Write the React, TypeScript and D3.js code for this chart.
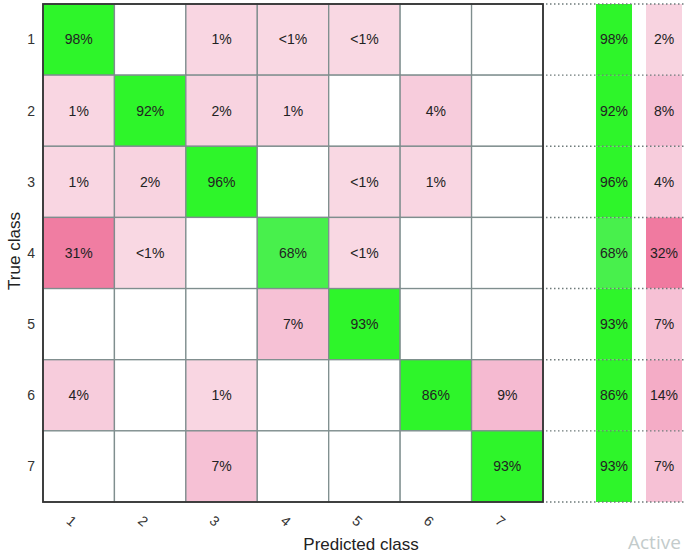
import React, { useEffect, useRef } from 'react';
import * as d3 from 'd3';

const classes = ['1', '2', '3', '4', '5', '6', '7'];
// percentages, null = empty cell, 0.5 = "<1%"
const matrix = [
  [98, null, 1, 0.5, 0.5, null, null],
  [1, 92, 2, 1, null, 4, null],
  [1, 2, 96, null, 0.5, 1, null],
  [31, 0.5, null, 68, 0.5, null, null],
  [null, null, null, 7, 93, null, null],
  [4, null, 1, null, null, 86, 9],
  [null, null, 7, null, null, null, 93],
];
const recall = [98, 92, 96, 68, 93, 86, 93];
const missed = [2, 8, 4, 32, 7, 14, 7];

const W = 685;
const H = 557;

export default function App() {
  const ref = useRef(null);

  useEffect(() => {
    const svg = d3.select(ref.current);
    svg.selectAll('*').remove();

    const x = d3.scaleBand().domain(classes).range([43, 543]);
    const y = d3.scaleBand().domain(classes).range([4, 502]);
    const green = d3.scaleLinear().domain([68, 86]).range(['#48f04c', '#2ef52a']).clamp(true);
    const pink = d3.scaleLinear().domain([0, 8, 32]).range(['#f9dae4', '#f5bdd3', '#f07aa0']).clamp(true);
    const fmt = v => (v < 1 ? '<1%' : `${v}%`);
    const font = 'Liberation Sans, Arial, sans-serif';

    const cells = [];
    matrix.forEach((row, i) =>
      row.forEach((v, j) => cells.push({ r: classes[i], c: classes[j], v, diag: i === j })),
    );

    const g = svg.append('g');
    g.selectAll('rect.cell')
      .data(cells)
      .join('rect')
      .attr('class', 'cell')
      .attr('x', d => x(d.c))
      .attr('y', d => y(d.r))
      .attr('width', x.bandwidth())
      .attr('height', y.bandwidth())
      .attr('fill', d => (d.v == null ? '#fff' : d.diag ? green(d.v) : pink(d.v)))
      .attr('stroke', '#7f8e8e')
      .attr('stroke-width', 1.3);

    g.selectAll('text.val')
      .data(cells.filter(d => d.v != null))
      .join('text')
      .attr('x', d => x(d.c) + x.bandwidth() / 2)
      .attr('y', d => y(d.r) + y.bandwidth() / 2)
      .attr('dy', '0.35em')
      .attr('text-anchor', 'middle')
      .attr('font-family', font)
      .attr('font-size', 14)
      .attr('fill', '#222')
      .text(d => fmt(d.v));

    // outer border
    svg.append('rect')
      .attr('x', 43)
      .attr('y', 4)
      .attr('width', 500)
      .attr('height', 498)
      .attr('fill', 'none')
      .attr('stroke', '#333')
      .attr('stroke-width', 1.8);

    // summary columns
    const sx = d3.scaleBand().domain(['recall', 'missed']).range([596, 682]).paddingInner(0.28);
    const side = svg.append('g');
    side.selectAll('rect.rec')
      .data(recall)
      .join('rect')
      .attr('x', sx('recall'))
      .attr('y', (d, i) => y(classes[i]))
      .attr('width', sx.bandwidth())
      .attr('height', y.bandwidth())
      .attr('fill', d => green(d));
    side.selectAll('rect.mis')
      .data(missed)
      .join('rect')
      .attr('class', 'mis')
      .attr('x', sx('missed'))
      .attr('y', (d, i) => y(classes[i]))
      .attr('width', sx.bandwidth())
      .attr('height', y.bandwidth())
      .attr('fill', d => pink(d));

    const bounds = classes.map(c => y(c)).concat([y.range()[1]]);
    side.selectAll('line')
      .data(bounds)
      .join('line')
      .attr('x1', 546)
      .attr('x2', W)
      .attr('y1', d => d)
      .attr('y2', d => d)
      .attr('stroke', '#6e7a7a')
      .attr('stroke-width', 1.4)
      .attr('stroke-dasharray', '1.5,2.5');

    [['recall', recall], ['missed', missed]].forEach(([k, vals]) => {
      side.append('g')
        .selectAll('text')
        .data(vals)
        .join('text')
        .attr('x', sx(k) + sx.bandwidth() / 2)
        .attr('y', (d, i) => y(classes[i]) + y.bandwidth() / 2)
        .attr('dy', '0.35em')
        .attr('text-anchor', 'middle')
        .attr('font-family', font)
        .attr('font-size', 14)
        .attr('fill', '#222')
        .text(d => `${d}%`);
    });

    // y ticks
    svg.append('g')
      .selectAll('text')
      .data(classes)
      .join('text')
      .attr('x', 35)
      .attr('y', d => y(d) + y.bandwidth() / 2)
      .attr('dy', '0.35em')
      .attr('text-anchor', 'end')
      .attr('font-family', font)
      .attr('font-size', 14)
      .attr('fill', '#333')
      .text(d => d);

    // x ticks, rotated
    svg.append('g')
      .selectAll('text')
      .data(classes)
      .join('text')
      .attr('transform', d => `translate(${x(d) + x.bandwidth() / 2 - 7},${521}) rotate(40)`)
      .attr('dy', '0.35em')
      .attr('text-anchor', 'middle')
      .attr('font-family', font)
      .attr('font-size', 14)
      .attr('fill', '#333')
      .text(d => d);

    svg.append('text')
      .attr('x', 361)
      .attr('y', 550)
      .attr('text-anchor', 'middle')
      .attr('font-family', font)
      .attr('font-size', 17)
      .attr('fill', '#222')
      .text('Predicted class');

    svg.append('text')
      .attr('transform', 'translate(20,251) rotate(-90)')
      .attr('text-anchor', 'middle')
      .attr('font-family', font)
      .attr('font-size', 17)
      .attr('fill', '#222')
      .text('True class');

    svg.append('text')
      .attr('x', 628)
      .attr('y', 549)
      .attr('font-family', 'Open Sans, sans-serif')
      .attr('font-size', 19)
      .attr('fill', '#c3cbcb')
      .text('Active');
  }, []);

  return (
    <svg
      ref={ref}
      width={W}
      height={H}
      style={{ position: 'absolute', left: 0, top: 0, background: '#fff', display: 'block' }}
    />
  );
}
